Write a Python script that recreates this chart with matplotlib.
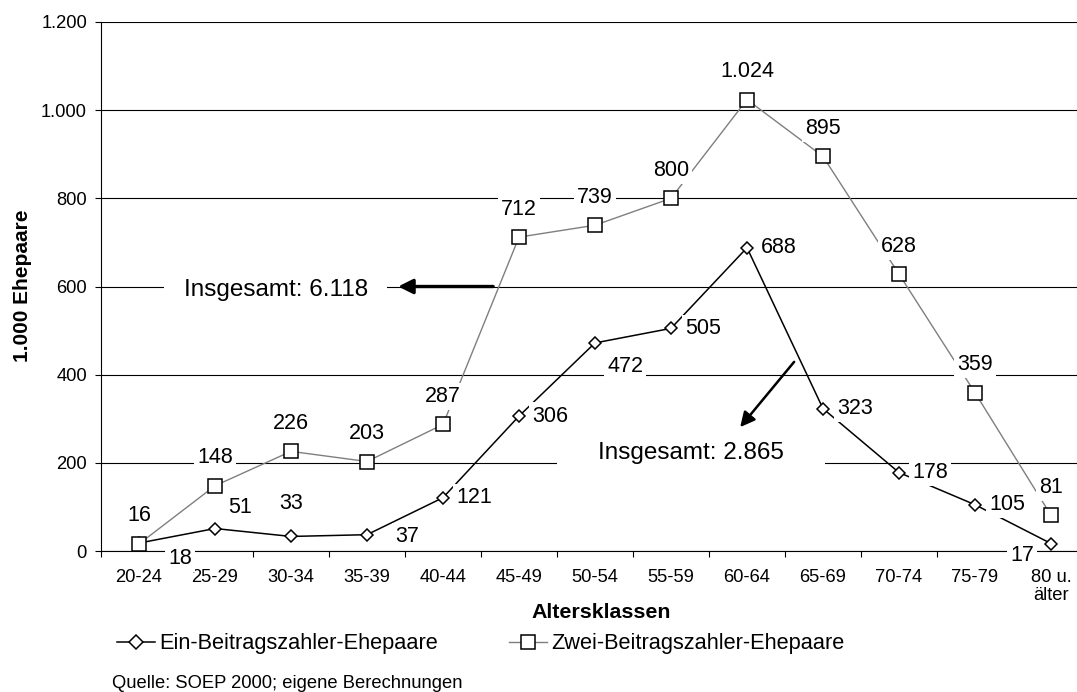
import matplotlib
matplotlib.use('Agg')
import matplotlib.pyplot as plt
from matplotlib.lines import Line2D
from matplotlib.ticker import FuncFormatter, FixedLocator
import numpy as np

plt.rcParams['font.family'] = ['Liberation Sans', 'DejaVu Sans']

# data
klassen = ['20-24', '25-29', '30-34', '35-39', '40-44', '45-49', '50-54',
           '55-59', '60-64', '65-69', '70-74', '75-79', '80 u.\nälter']
ein = [18, 51, 33, 37, 121, 306, 472, 505, 688, 323, 178, 105, 17]
zwei = [16, 148, 226, 203, 287, 712, 739, 800, 1024, 895, 628, 359, 81]

# label offsets in pixels (dx, dy)
ein_off = [(41, -15), (25, 21), (0, 33), (40, -2), (31, 0), (31, 0), (30, -24),
           (32, 0), (32, 0), (32, 0), (31, 0), (32, 0), (-29, -12)]
zwei_off = [(0, 28)] * len(zwei)


def fmt(v, pos=None):
    return f"{int(round(v)):,}".replace(',', '.')


W, H = 1077, 692
fig = plt.figure(figsize=(W / 100, H / 100), dpi=100)
ax = fig.add_axes([101 / W, (H - 551) / H, 988 / W, (551 - 22) / H])

x = np.arange(len(klassen))

ax.plot(x, ein, color='black', lw=1.1, marker='D', ms=6.6, mfc='white',
        mec='black', mew=1.1, zorder=3, clip_on=False)
ax.plot(x, zwei, color='#7f7f7f', lw=1.0, marker='s', ms=10.5, mfc='white',
        mec='black', mew=1.1, zorder=3, clip_on=False)

box = dict(facecolor='white', edgecolor='none', boxstyle='square,pad=0.15')
for xi, v, (dx, dy) in zip(x, ein, ein_off):
    ax.annotate(fmt(v), (xi, v), xytext=(dx, dy), textcoords='offset pixels',
                ha='center', va='center', fontsize=15.5, bbox=box,
                zorder=6, annotation_clip=False)
for xi, v, (dx, dy) in zip(x, zwei, zwei_off):
    ax.annotate(fmt(v), (xi, v), xytext=(dx, dy), textcoords='offset pixels',
                ha='center', va='center', fontsize=15.5, bbox=box,
                zorder=6, annotation_clip=False)

# totals with arrows
ax.text(1.80, 592, 'Insgesamt: 6.118', fontsize=17.5, ha='center', va='center',
        bbox=dict(facecolor='white', edgecolor='none', boxstyle='square,pad=0.8'),
        zorder=2)
ax.annotate('', xy=(3.41, 600), xytext=(4.66, 600),
            arrowprops=dict(arrowstyle='-|>', lw=2.4, color='black',
                            mutation_scale=22, shrinkA=0, shrinkB=0), zorder=7)
ax.text(7.26, 222, 'Insgesamt: 2.865', fontsize=17.5, ha='center', va='center',
        bbox=dict(facecolor='white', edgecolor='none', boxstyle='square,pad=1.7'),
        zorder=2)
ax.annotate('', xy=(7.91, 281), xytext=(8.62, 429),
            arrowprops=dict(arrowstyle='-|>', lw=1.8, color='black',
                            mutation_scale=22, shrinkA=0, shrinkB=0), zorder=7)

# axes
ax.set_xlim(-0.5, len(klassen) - 0.5)
ax.set_ylim(0, 1200)
ax.set_yticks(np.arange(0, 1201, 200))
ax.yaxis.set_major_formatter(FuncFormatter(fmt))
ax.yaxis.grid(True, color='black', lw=0.8)
ax.set_axisbelow(True)
ax.tick_params(axis='y', labelsize=13.2, length=4.3, width=0.8, pad=5.8)

ax.set_xticks(x)
ax.set_xticklabels(klassen)
ax.xaxis.set_minor_locator(FixedLocator(np.arange(-0.5, len(klassen), 1)))
ax.tick_params(axis='x', which='major', length=0, labelsize=13.2, pad=13)
ax.tick_params(axis='x', which='minor', length=4.3, width=0.8)
for lab in ax.get_xticklabels():
    lab.set_linespacing(1.1)

for s in ['top', 'right']:
    ax.spines[s].set_visible(False)
ax.spines['left'].set_linewidth(0.8)
ax.spines['bottom'].set_linewidth(0.8)

fig.text(601 / W, 1 - 612 / H, 'Altersklassen', fontsize=15.4, fontweight='bold',
         ha='center', va='center')
fig.text(23 / W, 1 - 286 / H, '1.000 Ehepaare', fontsize=15, fontweight='bold',
         rotation=90, ha='center', va='center')

handles = [
    Line2D([], [], color='black', lw=1.1, marker='D', ms=7, mfc='white', mec='black', mew=1.1),
    Line2D([], [], color='#7f7f7f', lw=1.0, marker='s', ms=9.5, mfc='white', mec='black', mew=1.1),
]
fig.legend(handles, ['Ein-Beitragszahler-Ehepaare', 'Zwei-Beitragszahler-Ehepaare'],
           loc='center left', bbox_to_anchor=(117 / W, 1 - 644 / H), ncol=2,
           frameon=False, fontsize=15.7, handlelength=1.75, handletextpad=0.2,
           columnspacing=3.25, borderpad=0, borderaxespad=0)

fig.text(112 / W, 1 - 684 / H, 'Quelle: SOEP 2000; eigene Berechnungen',
         fontsize=13.2, ha='left', va='center')

fig.savefig('out.png', dpi=100)
